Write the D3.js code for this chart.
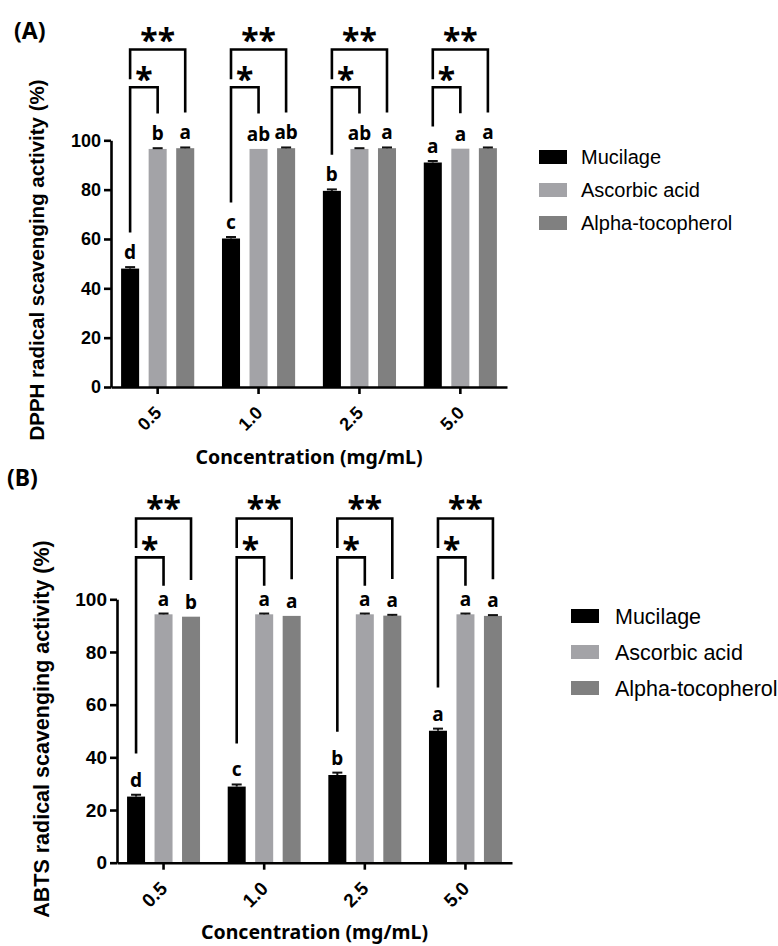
<!DOCTYPE html>
<html>
<head>
<meta charset="utf-8">
<script src="https://cdn.jsdelivr.net/npm/d3@7"></script>
<style>
  body { margin: 0; background: #fff; }
  svg { display: block; }
</style>
</head>
<body>
<div id="chart"></div>
<script>
// data
const categories = ['0.5', '1.0', '2.5', '5.0'];
const series = ['Mucilage', 'Ascorbic acid', 'Alpha-tocopherol'];
const yTicks = [0, 20, 40, 60, 80, 100];

const dpphMucilage = [48.0, 60.2, 79.5, 91.0];
const dpphAscorbic = [96.5, 96.5, 96.5, 96.6];
const dpphAlpha = [96.8, 96.8, 96.8, 96.8];
const dpphErr = [[0.6, 0.6, 0.6, 0.6], [0.3, 0, 0.3, 0], [0.3, 0.3, 0.3, 0.3]];
const dpphLetters = [['d', 'c', 'b', 'a'], ['b', 'ab', 'ab', 'a'], ['a', 'ab', 'a', 'a']];

const abtsMucilage = [25.1, 28.9, 33.3, 50.1];
const abtsAscorbic = [94.3, 94.3, 94.3, 94.3];
const abtsAlpha = [93.4, 93.7, 93.8, 93.7];
const abtsErr = [[0.7, 0.8, 0.9, 0.8], [0.3, 0.3, 0.3, 0.3], [0, 0, 0.3, 0.3]];
const abtsLetters = [['d', 'c', 'b', 'a'], ['a', 'a', 'a', 'a'], ['b', 'a', 'a', 'a']];

const sigLabels = ['*', '**'];
const colors = ['#000000', '#a3a3a7', '#808080'];

const width = 778;
const height = 946;
const svg = d3.select('#chart').append('svg')
  .attr('width', width)
  .attr('height', height);

const numFont = '"Liberation Sans", Arial, sans-serif';
const txtFont = '"Noto Sans", "Open Sans", sans-serif';

const drawPanel = (p) => {
  const values = [p.mucilage, p.ascorbic, p.alpha];
  const rows = categories.map((c, i) => ({
    cat: c,
    bars: series.map((s, j) => ({ s, j, v: values[j][i], e: p.err[j][i], l: p.letters[j][i] })),
  }));

  const x0 = d3.scaleBand().domain(categories)
    .range([p.left, p.right]).paddingInner(0.275).paddingOuter(0.1);
  const x1 = d3.scaleBand().domain(series)
    .range([0, x0.bandwidth()]).paddingInner(0.345);
  const y = d3.scaleLinear().domain([0, 100]).range([p.bottom, p.top]);

  const g = svg.append('g');

  const groups = g.selectAll('.grp').data(rows).enter().append('g')
    .attr('class', 'grp')
    .attr('transform', d => `translate(${x0(d.cat)},0)`);

  groups.selectAll('rect').data(d => d.bars).enter().append('rect')
    .attr('x', d => x1(d.s))
    .attr('y', d => y(d.v))
    .attr('width', x1.bandwidth())
    .attr('height', d => y(0) - y(d.v))
    .attr('fill', d => colors[d.j]);

  // error bars (upper half only)
  const eb = groups.selectAll('.err').data(d => d.bars.filter(b => b.e > 0)).enter().append('g')
    .attr('class', 'err')
    .attr('stroke', '#111')
    .attr('stroke-width', 2);
  eb.append('line')
    .attr('x1', d => x1(d.s) + x1.bandwidth() / 2)
    .attr('x2', d => x1(d.s) + x1.bandwidth() / 2)
    .attr('y1', d => y(d.v))
    .attr('y2', d => y(d.v + d.e));
  eb.append('line')
    .attr('x1', d => x1(d.s) + x1.bandwidth() / 2 - 5)
    .attr('x2', d => x1(d.s) + x1.bandwidth() / 2 + 5)
    .attr('y1', d => y(d.v + d.e))
    .attr('y2', d => y(d.v + d.e));

  // letters
  groups.selectAll('.let').data(d => d.bars).enter().append('text')
    .attr('class', 'let')
    .attr('x', d => x1(d.s) + x1.bandwidth() / 2)
    .attr('y', d => y(d.v + d.e) - p.letterGap)
    .attr('text-anchor', 'middle')
    .attr('font-family', txtFont)
    .attr('font-weight', 'bold')
    .attr('font-size', p.letterSize)
    .text(d => d.l);

  // significance brackets
  const cx = (d, j) => x1(series[j]) + x1.bandwidth() / 2;
  const br = groups.append('g')
    .attr('fill', 'none')
    .attr('stroke', '#000')
    .attr('stroke-width', 2.6);
  br.append('path')
    .attr('d', d => `M${cx(d, 0)},${y(d.bars[0].v + p.legGap)}V${y(p.level1)}H${cx(d, 1)}V${y(d.bars[1].v + p.legGapR1)}`);
  br.append('path')
    .attr('d', d => `M${cx(d, 0)},${y(p.level1 + p.innerGap)}V${y(p.level2)}H${cx(d, 2)}V${y(d.bars[2].v + p.legGapR2)}`);

  groups.append('text')
    .attr('x', d => (cx(d, 0) + cx(d, 1)) / 2)
    .attr('y', y(p.level1) - p.starGap1)
    .attr('text-anchor', 'middle')
    .attr('font-family', txtFont)
    .attr('font-weight', 'bold')
    .attr('font-size', p.starSize)
    .text(sigLabels[0]);
  groups.append('text')
    .attr('x', d => (cx(d, 0) + cx(d, 2)) / 2)
    .attr('y', y(p.level2) - p.starGap2)
    .attr('text-anchor', 'middle')
    .attr('font-family', txtFont)
    .attr('font-weight', 'bold')
    .attr('font-size', p.starSize)
    .text(sigLabels[1]);

  // axes
  const yAxis = g.append('g')
    .attr('transform', `translate(${p.left},0)`)
    .call(d3.axisLeft(y).tickValues(yTicks).tickSize(7).tickSizeOuter(0).tickPadding(3));
  yAxis.selectAll('text')
    .attr('font-family', numFont)
    .attr('font-weight', 'bold')
    .attr('font-size', p.tickSize);

  const xAxis = g.append('g')
    .attr('transform', `translate(0,${p.bottom})`)
    .call(d3.axisBottom(x0).tickSize(7).tickSizeOuter(0));
  xAxis.selectAll('text')
    .attr('font-family', numFont)
    .attr('font-weight', 'bold')
    .attr('font-size', p.tickSize)
    .attr('text-anchor', 'end')
    .attr('dy', null)
    .attr('y', null)
    .attr('transform', 'translate(5,27) rotate(-45)');

  g.selectAll('.domain, .tick line')
    .attr('stroke', '#000')
    .attr('stroke-width', 2.6);

  // titles
  g.append('text')
    .attr('transform', `translate(${p.yTitleX},${p.yTitleY}) rotate(-90)`)
    .attr('text-anchor', 'middle')
    .attr('font-family', numFont)
    .attr('font-weight', 'bold')
    .attr('font-size', p.yTitleSize)
    .text(p.yTitle);

  g.append('text')
    .attr('x', (p.left + p.right) / 2)
    .attr('y', p.xTitleY)
    .attr('text-anchor', 'middle')
    .attr('font-family', txtFont)
    .attr('font-weight', 'bold')
    .attr('font-size', 19.5)
    .text('Concentration (mg/mL)');

  g.append('text')
    .attr('x', p.panelX)
    .attr('y', p.panelY)
    .attr('font-family', txtFont)
    .attr('font-weight', 'bold')
    .attr('font-size', 23)
    .text(p.panel);

  // legend
  const leg = g.selectAll('.leg').data(series).enter().append('g')
    .attr('class', 'leg')
    .attr('transform', (d, i) => `translate(${p.legX},${p.legY + i * p.legStep})`);
  leg.append('rect')
    .attr('x', 0)
    .attr('y', -7)
    .attr('width', 28)
    .attr('height', 14)
    .attr('fill', (d, i) => colors[i]);
  leg.append('text')
    .attr('x', p.legTextDx)
    .attr('y', 0)
    .attr('dy', '0.35em')
    .attr('font-family', numFont)
    .attr('font-size', p.legSize)
    .text(d => d);
};

drawPanel({
  panel: '(A)', panelX: 14, panelY: 39,
  mucilage: dpphMucilage, ascorbic: dpphAscorbic, alpha: dpphAlpha,
  err: dpphErr, letters: dpphLetters,
  left: 111, right: 507, top: 140.3, bottom: 387,
  letterGap: 8, letterSize: 19,
  level1: 121.5, level2: 136.8, innerGap: 3.2,
  legGap: 14.6, legGapR1: 14.4, legGapR2: 14.5,
  starGap1: -4, starGap2: -2, starSize: 32,
  tickSize: 18,
  yTitle: 'DPPH radical scavenging activity (%)', yTitleX: 44, yTitleY: 260, yTitleSize: 20.5,
  xTitleY: 464,
  legX: 539, legY: 157, legStep: 33, legTextDx: 42, legSize: 20,
});

drawPanel({
  panel: '(B)', panelX: 7, panelY: 486,
  mucilage: abtsMucilage, ascorbic: abtsAscorbic, alpha: abtsAlpha,
  err: abtsErr, letters: abtsLetters,
  left: 117, right: 512, top: 599.3, bottom: 862.7,
  letterGap: 8, letterSize: 19,
  level1: 115.9, level2: 130.7, innerGap: 3.6,
  legGap: 16.4, legGapR1: 10.8, legGapR2: 13.9,
  starGap1: -4, starGap2: -2, starSize: 32,
  tickSize: 19,
  yTitle: 'ABTS radical scavenging activity (%)', yTitleX: 49, yTitleY: 729, yTitleSize: 21.5,
  xTitleY: 939,
  legX: 571, legY: 616, legStep: 36, legTextDx: 44, legSize: 21.5,
});
</script>
</body>
</html>
